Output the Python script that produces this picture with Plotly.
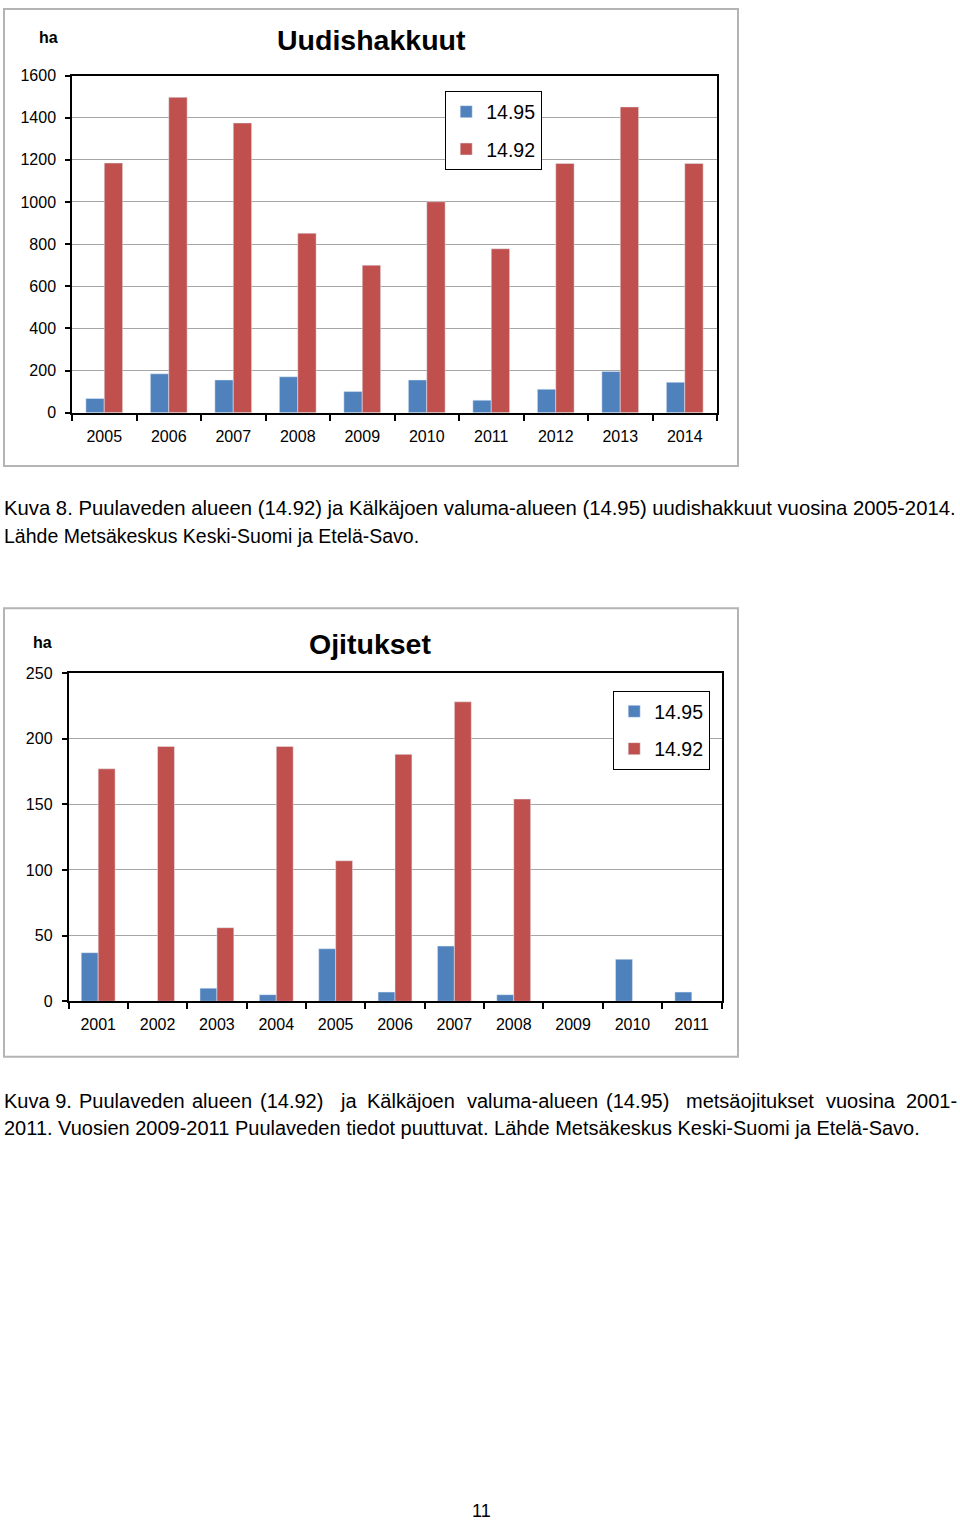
import plotly.graph_objects as go

W, H = 960, 1527
# measured vertical mapping of the photographed page: shown_y = S * page_y + OFF
S, OFF = 0.9878, 8.5

years_a = ['2005', '2006', '2007', '2008', '2009', '2010', '2011', '2012', '2013', '2014']
uud_1495 = [67, 184, 155, 170, 100, 155, 59, 111, 195, 144]
uud_1492 = [1185, 1497, 1375, 852, 700, 1001, 778, 1183, 1451, 1183]

years_b = ['2001', '2002', '2003', '2004', '2005', '2006', '2007', '2008', '2009', '2010', '2011']
oji_1495 = [37, 0, 10, 5, 40, 7, 42, 5, 0, 32, 7]
oji_1492 = [177, 194, 56, 194, 107, 188, 228, 154, None, None, None]

ticks_a = [0, 200, 400, 600, 800, 1000, 1200, 1400, 1600]
ticks_b = [0, 50, 100, 150, 200, 250]

BLUE = '#4F81BD'
RED = '#C0504D'
FONT = 'Liberation Sans, Arial, sans-serif'


def px(x):
    return x / W


def py(y):
    f = (y - OFF) / S
    f = min(max(f, 1.0), H - 1.0)
    return 1 - f / H


fig = go.Figure()
fig.add_trace(go.Bar(x=years_a, y=uud_1495, name='14.95', marker_color=BLUE,
                     xaxis='x', yaxis='y', legend='legend', legendgroup='a1'))
fig.add_trace(go.Bar(x=years_a, y=uud_1492, name='14.92', marker_color=RED,
                     xaxis='x', yaxis='y', legend='legend', legendgroup='a2'))
fig.add_trace(go.Bar(x=years_b, y=oji_1495, name='14.95', marker_color=BLUE,
                     xaxis='x2', yaxis='y2', legend='legend2', legendgroup='b1'))
fig.add_trace(go.Bar(x=years_b, y=oji_1492, name='14.92', marker_color=RED,
                     xaxis='x2', yaxis='y2', legend='legend2', legendgroup='b2'))

xcommon = dict(type='category', showline=True, linecolor='black', linewidth=1.8, mirror=True,
               ticks='outside', tickson='boundaries', ticklen=6, tickcolor='black', tickwidth=1.5,
               showgrid=False, tickfont=dict(family=FONT, size=16, color='black'),
               ticklabelstandoff=8)
ycommon = dict(showline=True, linecolor='black', linewidth=1.5, mirror=True,
               ticks='outside', ticklen=5, tickcolor='black', tickwidth=1.5,
               showgrid=True, gridcolor='#a6a6a6', gridwidth=1, zeroline=False,
               tickfont=dict(family=FONT, size=16, color='black'), ticklabelstandoff=6)

legcommon = dict(bgcolor='white', bordercolor='black', borderwidth=1.2,
                 font=dict(family=FONT, size=19.5, color='black'), traceorder='grouped',
                 tracegroupgap=9, itemwidth=30, xanchor='left', yanchor='top')

fig.update_layout(
    width=W, height=H, margin=dict(l=0, r=0, t=0, b=0),
    paper_bgcolor='white', plot_bgcolor='white',
    barmode='group', bargap=0.43, bargroupgap=0,
    xaxis=dict(domain=[px(72), px(717)], anchor='y', **xcommon),
    yaxis=dict(domain=[py(412.7), py(76)], anchor='x', range=[0, 1600],
               tickvals=ticks_a, **ycommon),
    xaxis2=dict(domain=[px(68.5), px(721.5)], anchor='y2', **xcommon),
    yaxis2=dict(domain=[py(1000.7), py(672.7)], anchor='x2', range=[0, 250],
                tickvals=ticks_b, **ycommon),
    legend=dict(x=px(445), y=py(91.7), **legcommon),
    legend2=dict(x=px(613), y=py(690.7), **legcommon),
    showlegend=True,
)

# outer chart frames
for (x0, y0, x1, y1) in [(4, 4, 738, 466), (4, 608, 738, 1056)]:
    fig.add_shape(type='rect', xref='paper', yref='paper',
                  x0=px(x0), y0=py(y0), x1=px(x1), y1=py(y1),
                  line=dict(color='#b4b4b4', width=2), fillcolor='rgba(0,0,0,0)', layer='below')


def ann(text, x, y, size, bold=False, xanchor='center'):
    fig.add_annotation(text=f'<b>{text}</b>' if bold else text, x=px(x), y=py(y),
                       xref='paper', yref='paper', xanchor=xanchor, yanchor='middle',
                       showarrow=False, font=dict(family=FONT, size=size, color='black'))


ann('Uudishakkuut', 371, 40, 28.5, bold=True)
ann('ha', 48, 38, 16, bold=True)
ann('Ojitukset', 370, 644, 28.5, bold=True)
ann('ha', 42, 642, 16, bold=True)

ann('Kuva 8. Puulaveden alueen (14.92) ja Kälkäjoen valuma-alueen (14.95) uudishakkuut vuosina 2005-2014.',
    2, 508, 20.3, xanchor='left')
ann('Lähde Metsäkeskus Keski-Suomi ja Etelä-Savo.', 2, 536, 19.5, xanchor='left')

words = [('Kuva 9.', 2), ('Puulaveden', 77), ('alueen', 190), ('(14.92)', 258), ('ja', 338),
         ('Kälkäjoen', 365), ('valuma-alueen', 465), ('(14.95)', 604), ('metsäojitukset', 684),
         ('vuosina', 824), ('2001-', 904)]
for w, x in words:
    ann(w, x, 1100, 20, xanchor='left')
ann('2011. Vuosien 2009-2011 Puulaveden tiedot puuttuvat. Lähde Metsäkeskus Keski-Suomi ja Etelä-Savo.',
    2, 1127, 20, xanchor='left')

ann('11', 481, 1510, 18)

fig.write_html('out.html', config={'displayModeBar': False},
               post_script="document.body.style.margin='0px';document.body.style.padding='0px';")
